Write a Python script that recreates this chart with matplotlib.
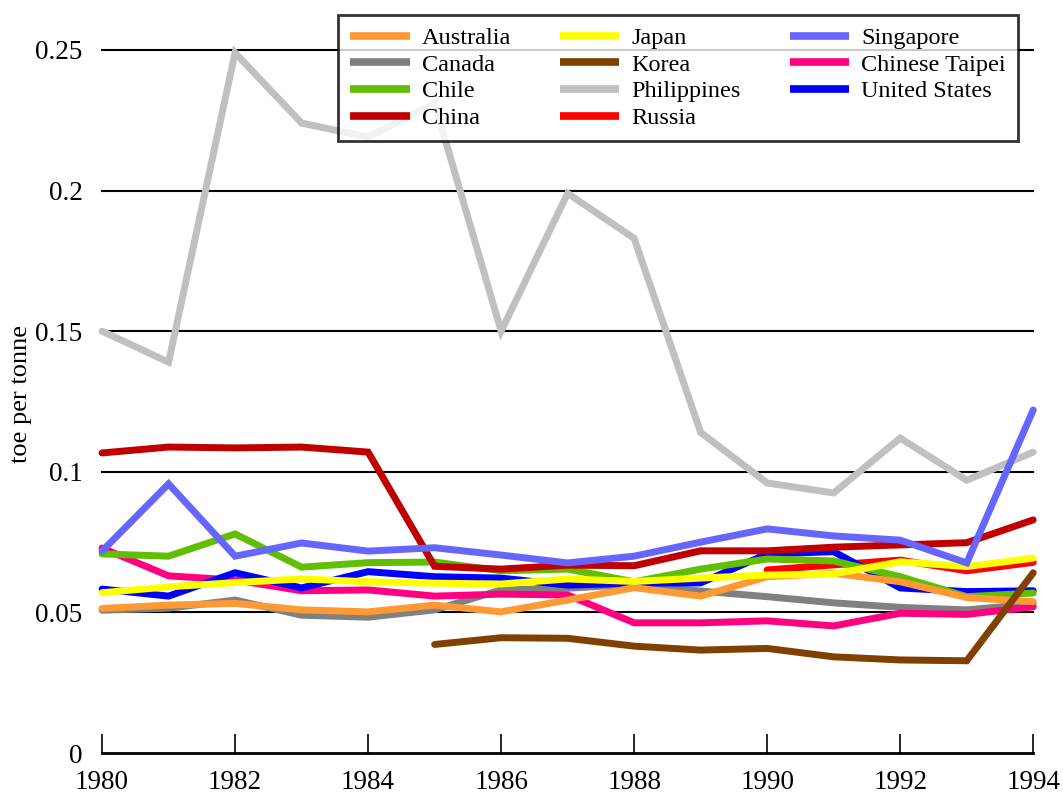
import numpy as np
import matplotlib
matplotlib.use("Agg")
from matplotlib import pyplot as plt
from matplotlib.lines import Line2D

plt.rcParams["font.family"] = ["Liberation Serif", "DejaVu Serif"]

years = list(range(1980, 1995))
nan = np.nan

australia = [0.0514, 0.0526, 0.0532, 0.0509, 0.0502, 0.0526, 0.0502, 0.0544,
             0.0588, 0.0558, 0.0627, 0.0639, 0.0609, 0.0553, 0.0538]
canada = [0.0508, 0.0515, 0.0544, 0.0490, 0.0483, 0.0509, 0.0580, 0.0586,
          0.0600, 0.0576, 0.0556, 0.0534, 0.0518, 0.0509, 0.0530]
chile = [0.0708, 0.0700, 0.0779, 0.0661, 0.0677, 0.0679, 0.0648, 0.0654,
         0.0609, 0.0654, 0.0690, 0.0683, 0.0627, 0.0556, 0.0569]
china = [0.1067, 0.1088, 0.1085, 0.1088, 0.1070, 0.0664, 0.0654, 0.0668,
         0.0666, 0.0719, 0.0719, 0.0732, 0.0740, 0.0748, 0.0829]
japan = [0.0570, 0.0591, 0.0606, 0.0619, 0.0609, 0.0604, 0.0601, 0.0619,
         0.0610, 0.0622, 0.0633, 0.0637, 0.0680, 0.0663, 0.0693]
korea = [nan, nan, nan, nan, nan, 0.0386, 0.0410, 0.0408,
         0.0380, 0.0366, 0.0372, 0.0342, 0.0331, 0.0328, 0.0641]
philippines = [0.150, 0.139, 0.249, 0.224, 0.219, 0.231, 0.150, 0.199,
               0.183, 0.114, 0.096, 0.0925, 0.112, 0.097, 0.107]
russia = [nan, nan, nan, nan, nan, nan, nan, nan,
          nan, nan, 0.0651, 0.0669, 0.0686, 0.0648, 0.0678]
singapore = [0.0718, 0.0957, 0.0700, 0.0747, 0.0718, 0.0730, 0.0704, 0.0676,
             0.0700, 0.0750, 0.0797, 0.0772, 0.0757, 0.0676, 0.1220]
taipei = [0.0729, 0.0630, 0.0615, 0.0577, 0.0580, 0.0558, 0.0565, 0.0562,
          0.0463, 0.0463, 0.0470, 0.0452, 0.0497, 0.0493, 0.0520]
usa = [0.0583, 0.0558, 0.0641, 0.0587, 0.0645, 0.0627, 0.0622, 0.0597,
       0.0604, 0.0605, 0.0708, 0.0716, 0.0587, 0.0574, 0.0577]

series = [
    ("Australia", australia, "#FF9933"),
    ("Canada", canada, "#808080"),
    ("Chile", chile, "#5FBF00"),
    ("China", china, "#C00000"),
    ("Japan", japan, "#FFFF00"),
    ("Korea", korea, "#804000"),
    ("Philippines", philippines, "#C0C0C0"),
    ("Russia", russia, "#FF0000"),
    ("Singapore", singapore, "#6666FF"),
    ("Chinese Taipei", taipei, "#FF0080"),
    ("United States", usa, "#0000FF"),
]
# stacking order of the lines (higher on top)
zorders = {"Russia": 3, "Canada": 4, "Chinese Taipei": 5, "United States": 6,
           "Chile": 7, "Australia": 8, "Japan": 9, "China": 10,
           "Philippines": 11, "Singapore": 12, "Korea": 13}

fig = plt.figure(figsize=(10.63, 7.93), dpi=100)
ax = fig.add_axes([0.096, 0.0504, 0.876, 0.8866])

handles = []
for name, vals, col in series:
    ax.plot(years, vals, color=col, lw=5, solid_capstyle="round",
            solid_joinstyle="miter", zorder=zorders[name], clip_on=False)
    handles.append(Line2D([], [], color=col, lw=5.5, solid_capstyle="butt",
                          label=name))

ax.set_xlim(1980, 1994)
ax.set_ylim(0, 0.25)
ax.set_xticks(range(1980, 1995, 2))
ax.set_yticks([0, 0.05, 0.1, 0.15, 0.2, 0.25])
ax.set_yticklabels(["0", "0.05", "0.1", "0.15", "0.2", "0.25"])

for s in ["top", "right", "left"]:
    ax.spines[s].set_visible(False)
ax.spines["bottom"].set_linewidth(2)
ax.spines["bottom"].set_zorder(2)

ax.tick_params(axis="x", direction="in", length=14, width=1.2, pad=12,
               labelsize=19.5)
ax.tick_params(axis="y", length=0, pad=14, labelsize=19.5)

for v in [0.05, 0.1, 0.15, 0.2, 0.25]:
    ax.axhline(v, color="black", lw=1.5, zorder=1, clip_on=False)

ax.set_ylabel("toe per tonne", fontsize=19)
ax.yaxis.set_label_coords(-0.075, 0.51)

leg = fig.legend(handles=handles, ncol=3, loc="upper left",
                 bbox_to_anchor=(338 / 1063, 1 - 15 / 793),
                 fontsize=17.5, frameon=True, fancybox=False,
                 handlelength=2.45, handletextpad=0.5, columnspacing=2.0,
                 labelspacing=0.19, borderpad=0.5, borderaxespad=0)
leg.get_frame().set_edgecolor("black")
leg.get_frame().set_linewidth(2)
leg.set_zorder(20)

fig.savefig("out.png", dpi=100)
